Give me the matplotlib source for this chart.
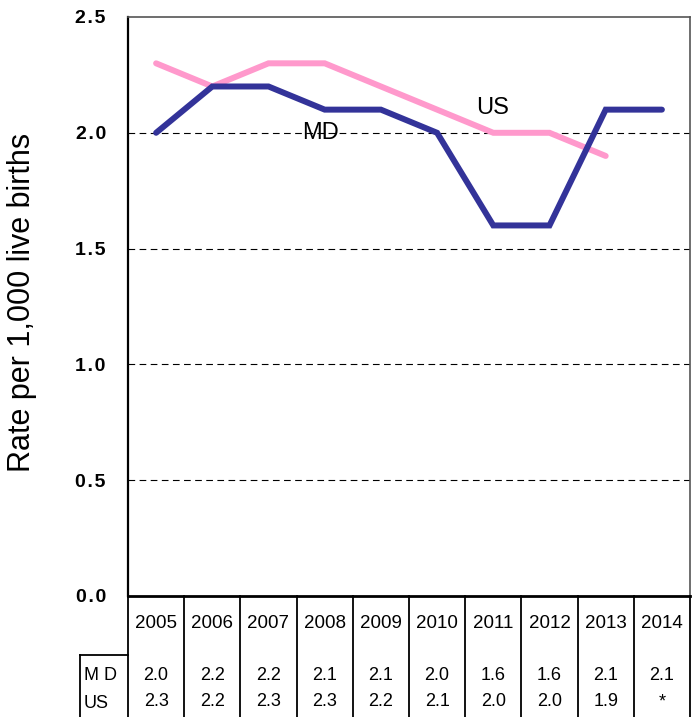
import matplotlib.pyplot as plt
import numpy as np

plt.rcParams['font.family'] = ['Liberation Sans', 'DejaVu Sans']

years = ['2005', '2006', '2007', '2008', '2009', '2010', '2011', '2012', '2013', '2014']
md = [2.0, 2.2, 2.2, 2.1, 2.1, 2.0, 1.6, 1.6, 2.1, 2.1]
us = [2.3, 2.2, 2.3, 2.3, 2.2, 2.1, 2.0, 2.0, 1.9, np.nan]
md_txt = ['2.0', '2.2', '2.2', '2.1', '2.1', '2.0', '1.6', '1.6', '2.1', '2.1']
us_txt = ['2.3', '2.2', '2.3', '2.3', '2.2', '2.1', '2.0', '2.0', '1.9', '*']
yticks = [0.0, 0.5, 1.0, 1.5, 2.0, 2.5]

W, H = 694, 717
fig = plt.figure(figsize=(W / 100, H / 100), dpi=100)

# main plot area (pixel box 128..690 x 17..596)
ax = fig.add_axes([128 / W, (H - 596) / H, 562 / W, 579 / H])
x = np.arange(len(years))
ax.plot(x, us, color='#ff99cc', lw=4.3, solid_capstyle='round', solid_joinstyle='miter', zorder=3)
ax.plot(x, md, color='#333399', lw=4.3, solid_capstyle='round', solid_joinstyle='miter', zorder=4)
ax.set_xlim(-0.5, len(years) - 0.5)
ax.set_ylim(0, 2.5)
ax.set_yticks(yticks)
# spaced-out bold tick labels like the original
ax.set_yticklabels([('%.1f' % v).replace('.', '\u200a.\u200a') for v in yticks],
                   fontsize=14, fontweight='bold')
ax.tick_params(axis='y', length=0, pad=16)
ax.set_xticks([])
for v in yticks[1:-1]:
    ax.axhline(v, color='black', lw=0.8, ls=(0, (6, 4)), zorder=1)
ax.spines['left'].set_linewidth(1.6)
ax.spines['bottom'].set_linewidth(2.0)
for s in ['top', 'right']:
    ax.spines[s].set_color('#555555')
    ax.spines[s].set_linewidth(1.2)

fig.text(22 / W, 1 - 302 / H, 'Rate per 1,000 live births', fontsize=22,
         rotation=90, ha='center', va='center')

ax.text(2.92, 2.0, 'MD', fontsize=17, ha='center', va='center', zorder=2)
ax.text(5.99, 2.107, 'US', fontsize=17, ha='center', va='center', zorder=2)

# data table below the plot
tb = fig.add_axes([128 / W, 0, 562 / W, (H - 596) / H])
tb.set_xlim(-0.5, len(years) - 0.5)
tb.set_ylim(0, H - 596)
tb.axis('off')
for k in range(len(years) + 1):
    tb.plot([k - 0.5, k - 0.5], [0, H - 596], color='black', lw=1.3, clip_on=False)
colw = 562 / len(years)
xl = -0.5 - 48 / colw
tb.plot([xl, xl], [0, H - 655], color='black', lw=1.3, clip_on=False)
tb.plot([xl, -0.5], [H - 655, H - 655], color='black', lw=1.3, clip_on=False)
for i, yr in enumerate(years):
    tb.text(i, H - 624, yr, fontsize=13.5, ha='center', va='center')
    tb.text(i, H - 675, md_txt[i], fontsize=13, ha='center', va='center')
    tb.text(i, H - 702, us_txt[i], fontsize=13, ha='center', va='center')
tb.text(xl + 0.07, H - 676, 'M D', fontsize=13, ha='left', va='center')
tb.text(xl + 0.07, H - 703, 'US', fontsize=13, ha='left', va='center')

fig.savefig('out.png', dpi=100)
